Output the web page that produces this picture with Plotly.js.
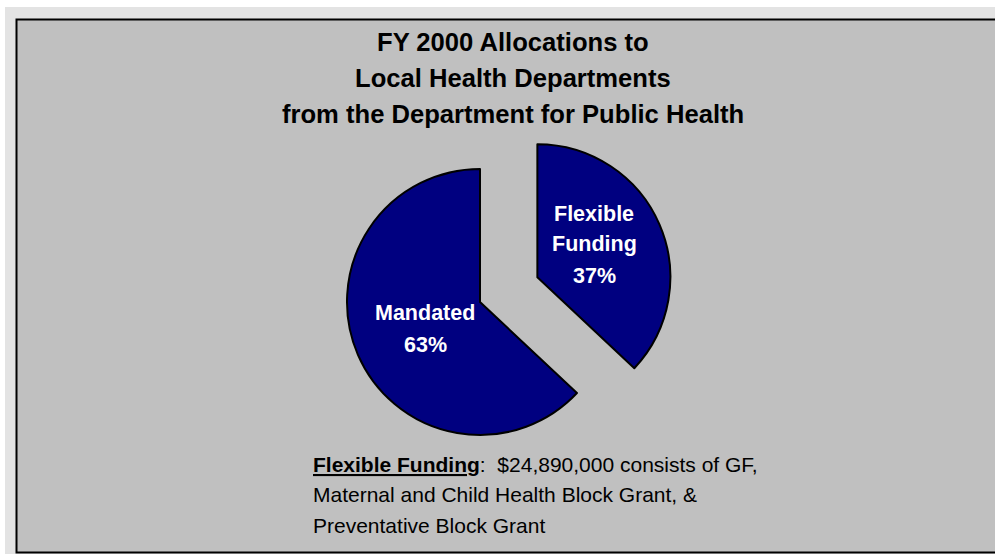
<!DOCTYPE html>
<html>
<head>
<meta charset="utf-8">
<script src="https://cdn.plot.ly/plotly-3.0.1.min.js"></script>
<style>html,body{margin:0;padding:0;background:#fff;}#chart{width:995px;height:554px;}</style>
</head>
<body>
<div id="chart"></div>
<script>
// ---- data ----
const sliceLabels = ['Flexible Funding', 'Mandated'];
const sliceValues = [37, 63];
const sliceTextLines = [['Flexible', 'Funding'], ['Mandated']];
const titleLines = ['FY 2000 Allocations to', 'Local Health Departments', 'from the Department for Public Health'];
const noteLines = [
  '<b><u>Flexible Funding</u></b>:  $24,890,000 consists of GF,',
  'Maternal and Child Health Block Grant, &',
  'Preventative Block Grant'
];

// ---- layout helpers ----
const W = 995, H = 554;
const px = x => x / W;
const py = y => 1 - y / H;
const FONT = 'Liberation Sans, Arial, sans-serif';

const total = sliceValues.reduce((a, b) => a + b, 0);
const pct = sliceValues.map(v => Math.round(v / total * 100) + '%');

const annotations = [];
// title lines
const titleY = [42.5, 77.5, 114];
titleLines.forEach((t, i) => annotations.push({
  xref: 'paper', yref: 'paper', x: px(513), y: py(titleY[i]),
  xanchor: 'center', yanchor: 'middle', showarrow: false, text: '<b>' + t + '</b>',
  font: {family: FONT, size: 25.6, color: '#000'}
}));
// slice labels
const labelPos = [{x: 594, ys: [214, 244, 276]}, {x: 425, ys: [313, 344.5]}];
sliceTextLines.forEach((lines, k) => {
  const all = lines.concat([pct[k]]);
  all.forEach((t, i) => annotations.push({
    xref: 'paper', yref: 'paper', x: px(labelPos[k].x), y: py(labelPos[k].ys[i]),
    xanchor: 'center', yanchor: 'middle', showarrow: false, text: '<b>' + t + '</b>',
    font: {family: FONT, size: 21.5, color: '#fff'}
  }));
});
// footnote
const noteY = [464, 494, 525];
noteLines.forEach((t, i) => annotations.push({
  xref: 'paper', yref: 'paper', x: px(311), y: py(noteY[i]),
  xanchor: 'left', yanchor: 'middle', showarrow: false, align: 'left', text: t,
  font: {family: FONT, size: 21, color: '#000'}
}));

const pull = 0.47;
const cx = 480, cy = 302, r = 133;
const half = r * (1 + pull);

const data = [{
  type: 'pie',
  labels: sliceLabels,
  values: sliceValues,
  sort: false,
  direction: 'clockwise',
  rotation: 0,
  pull: [pull, 0],
  textinfo: 'none',
  hoverinfo: 'label+percent',
  showlegend: false,
  marker: {colors: ['#000080', '#000080'], line: {color: '#000', width: 2}},
  domain: {x: [px(cx - half), px(cx + half)], y: [py(cy + half), py(cy - half)]}
}];

const layout = {
  width: W, height: H,
  margin: {l: 0, r: 0, t: 0, b: 0},
  paper_bgcolor: '#ffffff',
  showlegend: false,
  shapes: [
    {type: 'rect', xref: 'paper', yref: 'paper', layer: 'below',
     x0: px(5), x1: 1.02, y0: -0.02, y1: py(7), fillcolor: '#e3e3e3', line: {width: 0}},
    {type: 'rect', xref: 'paper', yref: 'paper', layer: 'below',
     x0: px(16.5), x1: 1.05, y0: py(552.5), y1: py(19.5), fillcolor: '#c0c0c0', line: {color: '#000', width: 2}}
  ],
  annotations: annotations
};

Plotly.newPlot('chart', data, layout, {displayModeBar: false, staticPlot: true});
</script>
</body>
</html>
